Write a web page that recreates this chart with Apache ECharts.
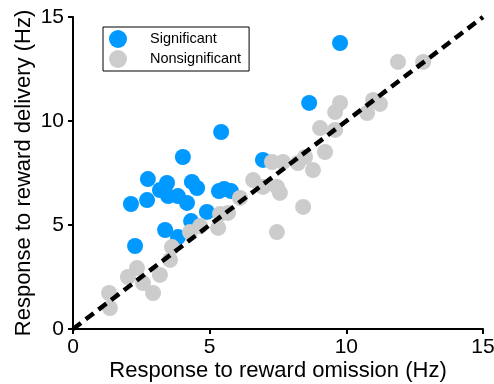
<!DOCTYPE html>
<html><head><meta charset="utf-8">
<script src="https://cdn.jsdelivr.net/npm/echarts@6/dist/echarts.min.js"></script>
<style>html,body{margin:0;padding:0;background:#fff}#c{width:494px;height:384px}</style>
</head><body><div id="c"></div>
<script>
const xTicks = [0, 5, 10, 15];
const yTicks = [0, 5, 10, 15];
const sigX = [9.77,8.64,5.42,4.02,2.74,2.12,2.71,3.18,3.44,3.48,3.84,4.17,4.35,4.54,4.90,4.32,3.37,3.84,2.27,5.34,5.53,5.78,6.95];
const sigY = [13.75,10.87,9.47,8.27,7.21,6.01,6.20,6.68,7.02,6.39,6.39,6.06,7.07,6.78,5.63,5.19,4.76,4.42,3.99,6.63,6.73,6.63,8.13];
const nsX = [1.32,1.35,2.01,2.34,2.56,2.93,3.18,3.55,3.62,4.28,4.65,5.31,5.38,5.67,6.11,6.59,6.95,7.28,7.68,7.46,7.57,7.46,8.23,8.42,8.49,8.78,9.04,9.59,9.22,9.59,9.77,10.76,10.98,11.23,11.89,12.81];
const nsY = [1.73,1.01,2.50,2.93,2.21,1.73,2.60,3.32,3.94,4.66,4.95,4.86,5.53,5.58,6.30,7.16,6.83,8.03,8.03,6.83,6.54,4.66,7.98,5.87,8.27,7.64,9.66,9.57,8.51,10.43,10.87,10.38,11.01,10.82,12.84,12.84];
const unityX = [0, 15];
const unityY = [0, 15];

const zip = (a, b) => a.map((v, i) => [v, b[i]]);
const font = 'Liberation Sans, Arial, sans-serif';
const chart = echarts.init(document.getElementById('c'));
chart.setOption({
  animation: false,
  grid: { left: 73, right: 11, top: 17, bottom: 55, outerBoundsMode: 'none', containLabel: false },
  legend: {
    orient: 'vertical', left: 103, top: 27,
    data: ['Significant', 'Nonsignificant'],
    icon: 'circle', itemWidth: 18, itemHeight: 18, itemGap: 2,
    borderColor: '#000', borderWidth: 1, padding: [3, 8, 3, 6],
    textStyle: { fontFamily: font, fontSize: 14.5, color: '#000', padding: [0, 0, 0, 18] }
  },
  xAxis: {
    type: 'value', min: 0, max: 15, interval: 5,
    name: 'Response to reward omission (Hz)', nameLocation: 'middle', nameGap: 31,
    nameMoveOverlap: false,
    nameTextStyle: { fontFamily: font, fontSize: 22, color: '#000' },
    axisLine: { lineStyle: { color: '#000', width: 2 } },
    axisTick: { show: true, length: 5, lineStyle: { color: '#000', width: 2 } },
    axisLabel: { fontFamily: font, fontSize: 21, color: '#000', margin: 8,
      formatter: v => xTicks.includes(v) ? String(v) : '' },
    splitLine: { show: false }
  },
  yAxis: {
    type: 'value', min: 0, max: 15, interval: 5,
    name: 'Response to reward delivery (Hz)', nameLocation: 'middle', nameGap: 38,
    nameMoveOverlap: false,
    nameTextStyle: { fontFamily: font, fontSize: 22, color: '#000' },
    axisLine: { lineStyle: { color: '#000', width: 2 } },
    axisTick: { show: true, length: 5, lineStyle: { color: '#000', width: 2 } },
    axisLabel: { fontFamily: font, fontSize: 21, color: '#000', margin: 9,
      formatter: v => yTicks.includes(v) ? String(v) : '' },
    splitLine: { show: false }
  },
  series: [
    { name: 'Significant', type: 'scatter', data: zip(sigX, sigY), symbolSize: 16,
      itemStyle: { color: '#0099FF', opacity: 1 }, z: 2 },
    { name: 'Nonsignificant', type: 'scatter', data: zip(nsX, nsY), symbolSize: 16,
      itemStyle: { color: '#CCCCCC', opacity: 1 }, z: 3 },
    { name: 'unity', type: 'line', data: zip(unityX, unityY), symbol: 'none', z: 5,
      lineStyle: { color: '#000', width: 4.5, type: [10, 6] }, silent: true }
  ]
});
</script></body></html>
